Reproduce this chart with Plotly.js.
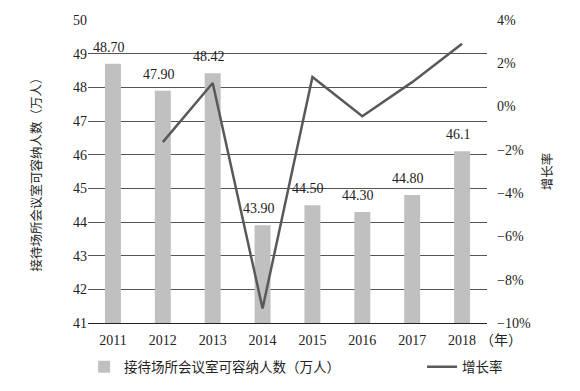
<!DOCTYPE html>
<html>
<head>
<meta charset="utf-8">
<script src="https://cdn.plot.ly/plotly-3.0.1.min.js"></script>
<style>html,body{margin:0;padding:0;background:#fff;}#chart{width:580px;height:391px;}</style>
</head>
<body>
<div id="chart"></div>
<script>
const years = ['2011','2012','2013','2014','2015','2016','2017','2018'];
const capacity = [48.70, 47.90, 48.42, 43.90, 44.50, 44.30, 44.80, 46.1];
const capacityLabels = ['48.70','47.90','48.42','43.90','44.50','44.30','44.80','46.1'];
const growthYears = ['2012','2013','2014','2015','2016','2017','2018'];
const growth = [-1.64, 1.09, -9.33, 1.37, -0.45, 1.13, 2.90];
const barName = '接待场所会议室可容纳人数（万人）';
const lineName = '增长率';
const leftTitle = '接待场所会议室可容纳人数（万人）';
const rightTitle = '增长率';
const yearUnit = '（年）';

const serif = 'Liberation Serif, Noto Sans CJK SC, serif';
const cjk = 'Noto Sans CJK SC, Liberation Serif, serif';

const traces = [
  {
    type: 'bar', x: years, y: capacity, name: barName, legend: 'legend',
    marker: {color: '#c0c0c0'}, width: 0.32, hoverinfo: 'none'
  },
  {
    type: 'scatter', mode: 'lines', x: growthYears, y: growth, name: lineName,
    legend: 'legend2',
    yaxis: 'y2', line: {color: '#595959', width: 2.5}, hoverinfo: 'none'
  }
];

const annotations = years.map((yr, i) => ({
  x: i, y: capacity[i], xref: 'x', yref: 'y', text: capacityLabels[i],
  showarrow: false, yanchor: 'bottom', yshift: 7, xshift: -4,
  font: {family: serif, size: 14, color: '#222'}
}));
annotations.push({
  xref: 'paper', yref: 'paper', x: 1.0, y: -0.053, xanchor: 'left', yanchor: 'middle',
  xshift: -9, text: yearUnit, showarrow: false,
  font: {family: cjk, size: 14, color: '#222'}
});

const layout = {
  width: 580, height: 391,
  margin: {l: 88, r: 93, t: 20, b: 68},
  paper_bgcolor: '#fff', plot_bgcolor: '#fff',
  showlegend: true,
  xaxis: {
    type: 'category', range: [-0.5, 7.5], showgrid: false, showline: true, linecolor: '#222', linewidth: 1,
    ticks: '', ticklabelstandoff: 4, tickfont: {family: serif, size: 14, color: '#222'}, fixedrange: true
  },
  yaxis: {
    range: [41, 50], dtick: 1, showgrid: true, gridcolor: '#555', gridwidth: 1,
    zeroline: false, showline: false, ticks: '',
    tickfont: {family: serif, size: 14, color: '#222'},
    title: {text: leftTitle, font: {family: cjk, size: 12.5, color: '#222'}, standoff: 28},
    automargin: false
  },
  yaxis2: {
    overlaying: 'y', side: 'right', range: [-10, 4], dtick: 2, ticksuffix: '%',
    showgrid: false, zeroline: false, showline: false, ticks: '', ticklabelstandoff: 9,
    tickfont: {family: serif, size: 14, color: '#222'},
    title: {text: rightTitle, font: {family: cjk, size: 12.5, color: '#222'}, standoff: 13},
    automargin: false
  },
  legend: {
    orientation: 'h', xref: 'container', yref: 'container',
    x: 0.145, xanchor: 'left', y: 0.0614, yanchor: 'middle',
    font: {family: cjk, size: 13.5, color: '#222'}, bgcolor: 'rgba(0,0,0,0)'
  },
  legend2: {
    orientation: 'h', xref: 'container', yref: 'container',
    x: 0.7276, xanchor: 'left', y: 0.0614, yanchor: 'middle',
    font: {family: cjk, size: 13.5, color: '#222'}, bgcolor: 'rgba(0,0,0,0)'
  },
  annotations: annotations
};

Plotly.newPlot('chart', traces, layout, {displayModeBar: false, staticPlot: true});
</script>
</body>
</html>
